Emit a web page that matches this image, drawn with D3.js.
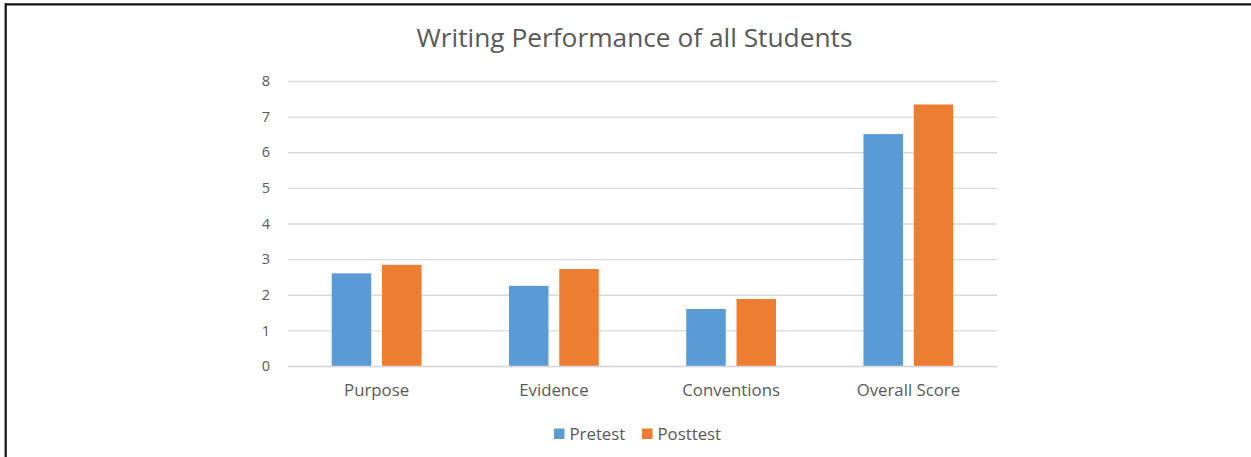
<!DOCTYPE html>
<html><head><meta charset="utf-8">
<script src="https://cdn.jsdelivr.net/npm/d3@7"></script>
<style>body{margin:0;background:#fff}svg{display:block}</style>
</head><body>
<svg id="c" width="1251" height="457"></svg>
<script>
const categories = ["Purpose", "Evidence", "Conventions", "Overall Score"];
const seriesNames = ["Pretest", "Posttest"];
const pretest = [2.60, 2.25, 1.60, 6.51];
const posttest = [2.84, 2.72, 1.88, 7.34];
const yTicks = [0, 1, 2, 3, 4, 5, 6, 7, 8];
const colors = ["#5B9BD5", "#ED7D31"];
const font = "'Open Sans', sans-serif";

(function(){
const svg = d3.select("#c");
svg.append("rect").attr("x",0).attr("y",0).attr("width",1251).attr("height",457).attr("fill","#fff");
// partial frame (top and left)
svg.append("line").attr("x1",5.5).attr("x2",1251).attr("y1",4.3).attr("y2",4.3).attr("stroke","#111").attr("stroke-width",2.2);
svg.append("line").attr("x1",5.7).attr("x2",5.7).attr("y1",3.2).attr("y2",457).attr("stroke","#111").attr("stroke-width",2.2);

const pLeft = 288, pRight = 997, pTop = 81, pBottom = 366;
const x = d3.scaleBand().domain(categories).range([pLeft, pRight]).paddingInner(0).paddingOuter(0);
const y = d3.scaleLinear().domain([0, 8]).range([pBottom, pTop]);
const barW = 39.5, gap = 10.8;

// gridlines
const grid = d3.axisLeft(y).tickValues(yTicks).tickSize(-(pRight-pLeft)).tickFormat("");
const gg = svg.append("g").attr("transform",`translate(${pLeft},0)`).call(grid);
gg.select(".domain").remove();
gg.selectAll("line").attr("stroke","#d9d9d9").attr("stroke-width",1.3);

// y labels
const ya = d3.axisLeft(y).tickValues(yTicks).tickSize(0).tickPadding(18).tickFormat(d3.format("d"));
const yg = svg.append("g").attr("transform",`translate(${pLeft},0)`).call(ya);
yg.select(".domain").remove();
yg.selectAll("text").attr("fill","#595959").style("font-family",font).style("font-size","14.5px");

// bars
const data = [];
categories.forEach((c,i)=>{
  data.push({c, s:0, v:pretest[i]});
  data.push({c, s:1, v:posttest[i]});
});
svg.append("g").selectAll("rect").data(data).join("rect")
  .attr("x", d => x(d.c) + x.bandwidth()/2 - (barW*2+gap)/2 + d.s*(barW+gap))
  .attr("width", barW)
  .attr("y", d => y(d.v))
  .attr("height", d => y(0) - y(d.v))
  .attr("fill", d => colors[d.s]);

// x axis
const xa = d3.axisBottom(x).tickSize(0).tickPadding(18.5);
const xg = svg.append("g").attr("transform",`translate(0,${pBottom})`).call(xa);
xg.select(".domain").attr("stroke","#d9d9d9").attr("stroke-width",1.3);
xg.selectAll("text").attr("fill","#595959").style("font-family",font).style("font-size","16.8px");

// title
svg.append("text").attr("x",634.5).attr("y",46.5).attr("text-anchor","middle")
  .attr("fill","#595959").style("font-family",font).style("font-size","26.3px")
  .text("Writing Performance of all Students");

// legend
const lg = svg.append("g");
const legendX = [554, 642];
seriesNames.forEach((n,i)=>{
  lg.append("rect").attr("x",legendX[i]).attr("y",428.5).attr("width",10.5).attr("height",10.5).attr("fill",colors[i]);
  lg.append("text").attr("x",legendX[i]+15.5).attr("y",440).attr("fill","#595959")
    .style("font-family",font).style("font-size","16.8px").text(n);
});
})();
</script>
</body></html>
